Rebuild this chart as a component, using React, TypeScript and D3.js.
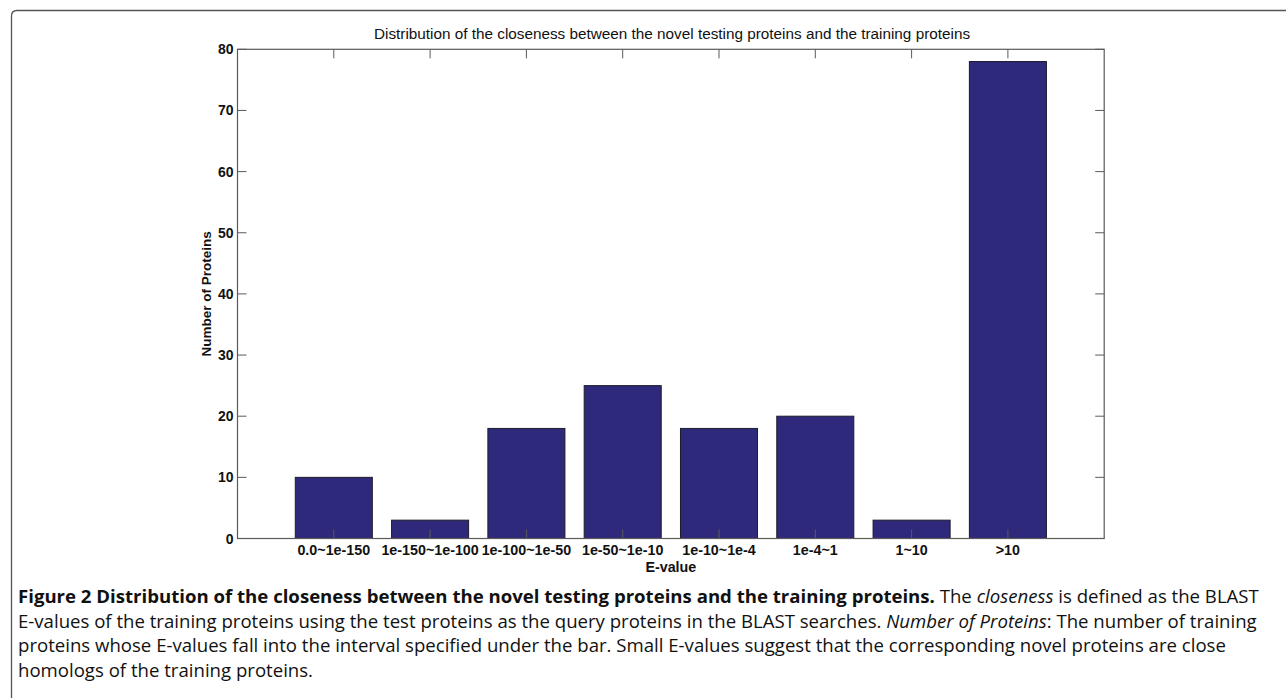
import React from "react";
import * as d3 from "d3";

const categories = ["0.0~1e-150", "1e-150~1e-100", "1e-100~1e-50", "1e-50~1e-10", "1e-10~1e-4", "1e-4~1", "1~10", ">10"];
const counts = [10, 3, 18, 25, 18, 20, 3, 78];
const yTicks = [0, 10, 20, 30, 40, 50, 60, 70, 80];

const W = 1286;
const H = 698;
const left = 237.5;
const right = 1104.2;
const top = 49.3;
const bottom = 538.5;

export default function App() {
  const x = d3.scaleLinear().domain([0, categories.length + 1]).range([left, right]);
  const y = d3.scaleLinear().domain([0, 80]).range([bottom, top]);
  const bw = x(0.8) - x(0);
  const axisColor = "#5a5a5a";
  const font = "Liberation Sans, Arial, sans-serif";
  const capFont = "'Open Sans', Lato, sans-serif";
  return (
    <svg width={W} height={H} style={{ position: "absolute", left: 0, top: 0 }} xmlns="http://www.w3.org/2000/svg">
      <rect x={0} y={0} width={W} height={H} fill="#fff" />
      <path d="M11.5,698 L11.5,16 Q11.5,10.5 17,10.5 L1290,10.5" fill="none" stroke="#555" strokeWidth={1.3} />
      <text x={672} y={38.5} textAnchor="middle" fontFamily={font} fontSize={15.3} fill="#111">
        Distribution of the closeness between the novel testing proteins and the training proteins
      </text>
      {/* bars */}
      {counts.map((v, i) => (
        <rect key={i} x={x(i + 1) - bw / 2} y={y(v)} width={bw} height={y(0) - y(v)} fill="#2f297b" stroke="#1c1c2a" strokeWidth={1} />
      ))}
      {/* frame */}
      <rect x={left} y={top} width={right - left} height={bottom - top} fill="none" stroke={axisColor} strokeWidth={1.2} />
      {/* y ticks */}
      {yTicks.map((t) => (
        <g key={t}>
          <line x1={left} x2={left + 9} y1={y(t)} y2={y(t)} stroke={axisColor} strokeWidth={1} />
          <line x1={right} x2={right - 9} y1={y(t)} y2={y(t)} stroke={axisColor} strokeWidth={1} />
          <text x={left - 4} y={y(t) + 5} textAnchor="end" fontFamily={font} fontWeight="bold" fontSize={14} fill="#111">
            {t}
          </text>
        </g>
      ))}
      {/* x ticks */}
      {categories.map((c, i) => (
        <g key={c}>
          <line x1={x(i + 1)} x2={x(i + 1)} y1={bottom} y2={bottom - 9} stroke={axisColor} strokeWidth={1} />
          <line x1={x(i + 1)} x2={x(i + 1)} y1={top} y2={top + 9} stroke={axisColor} strokeWidth={1} />
          <text x={x(i + 1)} y={554.5} textAnchor="middle" fontFamily={font} fontWeight="bold" fontSize={14.3} fill="#111">
            {c}
          </text>
        </g>
      ))}
      <text x={(left + right) / 2} y={571.5} textAnchor="middle" fontFamily={font} fontWeight="bold" fontSize={14.3} fill="#111">
        E-value
      </text>
      <text transform={`translate(211,${(top + bottom) / 2}) rotate(-90)`} textAnchor="middle" fontFamily={font} fontWeight="bold" fontSize={13.5} fill="#111">
        Number of Proteins
      </text>
      {/* caption */}
      <g fontFamily={capFont} fontSize={18.6} fill="#111">
        <text x={18} y={603}>
          <tspan fontWeight="bold">Figure 2 Distribution of the closeness between the novel testing proteins and the training proteins.</tspan>
          <tspan> The </tspan>
          <tspan fontStyle="italic">closeness</tspan>
          <tspan> is defined as the BLAST</tspan>
        </text>
        <text x={18} y={627.5}>
          <tspan>E-values of the training proteins using the test proteins as the query proteins in the BLAST searches. </tspan>
          <tspan fontStyle="italic">Number of Proteins</tspan>
          <tspan>: The number of training</tspan>
        </text>
        <text x={18} y={652}>
          proteins whose E-values fall into the interval specified under the bar. Small E-values suggest that the corresponding novel proteins are close
        </text>
        <text x={18} y={676.5}>homologs of the training proteins.</text>
      </g>
    </svg>
  );
}
